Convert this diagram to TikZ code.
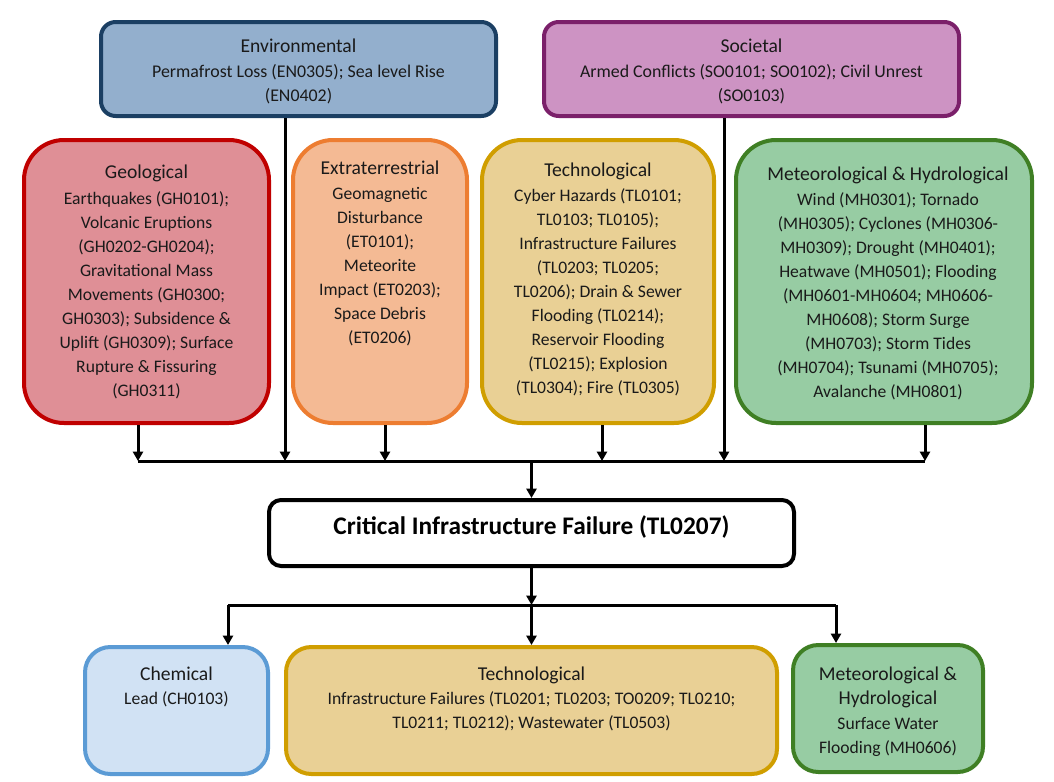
\documentclass[tikz,border=0pt]{standalone}
\usepackage{fontspec}
\setmainfont{Carlito}
\usetikzlibrary{arrows.meta}
\definecolor{envF}{HTML}{93AFCD}\definecolor{envD}{HTML}{1B3F63}
\definecolor{socF}{HTML}{CD93C3}\definecolor{socD}{HTML}{7B206A}
\definecolor{geoF}{HTML}{DF8F96}\definecolor{geoD}{HTML}{C00000}
\definecolor{extF}{HTML}{F4BA94}\definecolor{extD}{HTML}{ED7D31}
\definecolor{tecF}{HTML}{E9D095}\definecolor{tecD}{HTML}{D09E00}
\definecolor{mhF}{HTML}{97CCA3}\definecolor{mhD}{HTML}{3F7F24}
\definecolor{chF}{HTML}{D1E2F4}\definecolor{chD}{HTML}{5B9BD5}
\definecolor{txt}{HTML}{1A1A1A}
\begin{document}
\begin{tikzpicture}[x=0.75pt,y=-0.75pt,
  box/.style={draw, line width=3pt, inner sep=0pt},
  ttl/.style={anchor=base, inner sep=0pt, text=txt, font=\fontsize{14.7}{18}\selectfont, align=center},
  body/.style={anchor=north, inner sep=0pt, text=txt, font=\fontsize{13.2}{18}\selectfont, align=center},
  arr/.style={line width=2.25pt, -{Triangle[length=7pt,width=7.5pt]}},
  bus/.style={line width=2.25pt}]
\useasboundingbox (0,0) rectangle (1054,782);
% top row
\node[box, fill=envF, draw=envD, rounded corners=11pt, minimum width=296.25pt, minimum height=70.5pt] (env) at (298.5,69) {};
\node[ttl] (envT) at (298.5,52) {Environmental};
\node[body, font=\fontsize{13.4}{18}\selectfont] (envB) at (298.5,64) {Permafrost Loss (EN0305); Sea level Rise\\(EN0402)};
\node[box, fill=socF, draw=socD, rounded corners=11pt, minimum width=311.25pt, minimum height=70.5pt] (soc) at (751.5,69) {};
\node[ttl] (socT) at (751.5,52) {Societal};
\node[body, font=\fontsize{13.4}{18}\selectfont] (socB) at (751.5,64) {Armed Conflicts (SO0101; SO0102); Civil Unrest\\(SO0103)};
% second row
\node[box, fill=geoF, draw=geoD, rounded corners=30pt, minimum width=183.75pt, minimum height=212.25pt] (geo) at (146.5,281.5) {};
\node[ttl] (geoT) at (146.5,178) {Geological};
\node[body] (geoB) at (146.5,191) {Earthquakes (GH0101);\\Volcanic Eruptions\\(GH0202-GH0204);\\Gravitational Mass\\Movements (GH0300;\\GH0303); Subsidence \&\\Uplift (GH0309); Surface\\Rupture \& Fissuring\\(GH0311)};
\node[box, fill=extF, draw=extD, rounded corners=30pt, minimum width=130.5pt, minimum height=212.25pt] (ext) at (380,281.5) {};
\node[ttl] (extT) at (380,174) {Extraterrestrial};
\node[body] (extB) at (380,187) {Geomagnetic\\Disturbance\\(ET0101);\\Meteorite\\Impact (ET0203);\\Space Debris\\(ET0206)};
\node[box, fill=tecF, draw=tecD, rounded corners=30pt, minimum width=174pt, minimum height=212.25pt] (tec) at (598,281.5) {};
\node[ttl] (tecT) at (598,176) {Technological};
\node[body] (tecB) at (598,188) {Cyber Hazards (TL0101;\\TL0103; TL0105);\\Infrastructure Failures\\(TL0203; TL0205;\\TL0206); Drain \& Sewer\\Flooding (TL0214);\\Reservoir Flooding\\(TL0215); Explosion\\(TL0304); Fire (TL0305)};
\node[box, fill=mhF, draw=mhD, rounded corners=30pt, minimum width=222pt, minimum height=212.25pt] (mh) at (884,281.5) {};
\node[ttl] (mhT) at (888,180) {Meteorological \& Hydrological};
\node[body] (mhB) at (888,192) {Wind (MH0301); Tornado\\(MH0305); Cyclones (MH0306-\\MH0309); Drought (MH0401);\\Heatwave (MH0501); Flooding\\(MH0601-MH0604; MH0606-\\MH0608); Storm Surge\\(MH0703); Storm Tides\\(MH0704); Tsunami (MH0705);\\Avalanche (MH0801)};
% critical
\node[box, fill=white, draw=black, rounded corners=9pt, minimum width=393.75pt, minimum height=49.5pt] (crit) at (531.5,533) {};
\node[anchor=base, inner sep=0pt, text=black, font=\fontsize{19}{22}\selectfont\bfseries] (critT) at (531.5,534) {Critical Infrastructure Failure (TL0207)};
% bottom row
\node[box, fill=chF, draw=chD, rounded corners=19pt, minimum width=137.25pt, minimum height=95.25pt] (chem) at (176.5,710.5) {};
\node[ttl] (chemT) at (176.5,680) {Chemical};
\node[body] (chemB) at (176.5,691) {Lead (CH0103)};
\node[box, fill=tecF, draw=tecD, rounded corners=19pt, minimum width=368.25pt, minimum height=95.25pt] (tecb) at (531.5,710.5) {};
\node[ttl] (tecbT) at (531.5,680) {Technological};
\node[body] (tecbB) at (531.5,691) {Infrastructure Failures (TL0201; TL0203; TO0209; TL0210;\\TL0211; TL0212); Wastewater (TL0503)};
\node[box, fill=mhF, draw=mhD, rounded corners=19pt, minimum width=142.5pt, minimum height=95.25pt] (mhb) at (888,708.5) {};
\node[ttl, anchor=north] (mhbT) at (888,667) {Meteorological \&\\Hydrological};
\node[body] (mhbB) at (888,717) {Surface Water\\Flooding (MH0606)};
% upper bus
\coordinate (b1) at (138,461);
\coordinate (b2) at (285,461);
\coordinate (b3) at (385,461);
\coordinate (b4) at (602,461);
\coordinate (b5) at (724,461);
\coordinate (b6) at (925,461);
\coordinate (bm) at (531.5,461);
\draw[bus] (b1) -- (b6);
\draw[arr] (b1 |- geo.south) -- (b1);
\draw[arr] (b2 |- env.south) -- (b2);
\draw[arr] (b3 |- ext.south) -- (b3);
\draw[arr] (b4 |- tec.south) -- (b4);
\draw[arr] (b5 |- soc.south) -- (b5);
\draw[arr] (b6 |- mh.south) -- (b6);
\draw[arr] (bm) -- (crit.north);
% lower bus
\coordinate (c1) at (228,605);
\coordinate (c2) at (531.5,605);
\coordinate (c3) at (836,605);
\draw[bus] (c1) -- (c3);
\draw[arr] (crit.south) -- (c2);
\draw[arr] (c1) -- (c1 |- chem.north);
\draw[arr] (c2) -- (tecb.north);
\draw[arr] (c3) -- (c3 |- mhb.north);
\end{tikzpicture}
\end{document}
